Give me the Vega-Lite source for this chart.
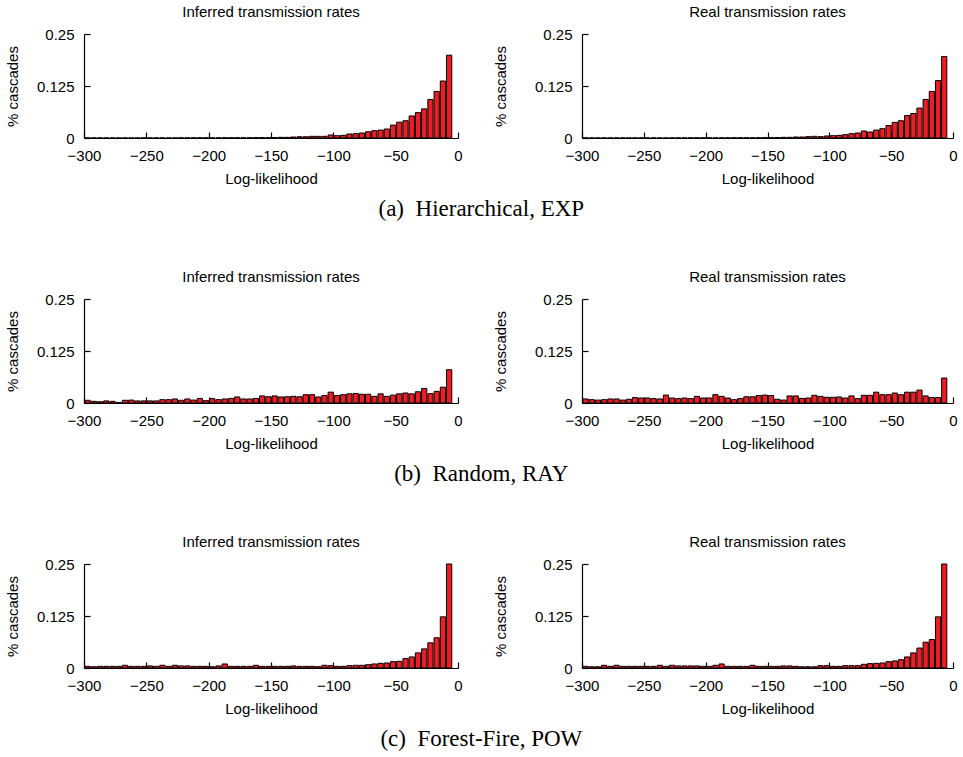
{
  "$schema": "https://vega.github.io/schema/vega-lite/v6.json",
  "background": "white",
  "padding": 5,
  "config": {
    "view": {"stroke": null},
    "font": "Liberation Sans",
    "title": {"font": "Liberation Sans", "fontSize": 15, "fontWeight": "normal", "color": "#000000", "offset": 7},
    "axis": {
      "grid": false, "labelFont": "Liberation Sans", "titleFont": "Liberation Sans",
      "labelFontSize": 15, "titleFontSize": 15, "titleFontWeight": "normal",
      "labelColor": "#000000", "titleColor": "#000000", "domainColor": "#000000", "tickColor": "#000000",
      "tickSize": -6, "labelPadding": 16, "domainWidth": 1.2, "tickWidth": 1.2,
      "labelFlush": false, "labelOverlap": false
    },
    "axisX": {"titlePadding": 8},
    "axisY": {"titlePadding": 16}
  },
  "data": {"values": [
    {"lo": -300, "hi": -295, "hI": 0.0002, "hR": 0.0002, "rI": 0.0065, "rR": 0.0097, "fI": 0.004, "fR": 0.004},
    {"lo": -295, "hi": -290, "hI": 0.0002, "hR": 0.0002, "rI": 0.004, "rR": 0.008, "fI": 0.003, "fR": 0.003},
    {"lo": -290, "hi": -285, "hI": 0.0002, "hR": 0.0002, "rI": 0.003, "rR": 0.007, "fI": 0.004, "fR": 0.003},
    {"lo": -285, "hi": -280, "hI": 0.0002, "hR": 0.0002, "rI": 0.005, "rR": 0.008, "fI": 0.004, "fR": 0.0065},
    {"lo": -280, "hi": -275, "hI": 0.0002, "hR": 0.0002, "rI": 0.004, "rR": 0.0097, "fI": 0.004, "fR": 0.004},
    {"lo": -275, "hi": -270, "hI": 0.0002, "hR": 0.0002, "rI": 0.001, "rR": 0.0097, "fI": 0.004, "fR": 0.0065},
    {"lo": -270, "hi": -265, "hI": 0.0002, "hR": 0.0002, "rI": 0.0065, "rR": 0.007, "fI": 0.0065, "fR": 0.004},
    {"lo": -265, "hi": -260, "hI": 0.0002, "hR": 0.0002, "rI": 0.007, "rR": 0.009, "fI": 0.004, "fR": 0.004},
    {"lo": -260, "hi": -255, "hI": 0.0002, "hR": 0.0002, "rI": 0.005, "rR": 0.013, "fI": 0.004, "fR": 0.004},
    {"lo": -255, "hi": -250, "hI": 0.0002, "hR": 0.0002, "rI": 0.005, "rR": 0.012, "fI": 0.004, "fR": 0.004},
    {"lo": -250, "hi": -245, "hI": 0.0002, "hR": 0.0002, "rI": 0.005, "rR": 0.012, "fI": 0.005, "fR": 0.004},
    {"lo": -245, "hi": -240, "hI": 0.0002, "hR": 0.0002, "rI": 0.005, "rR": 0.0105, "fI": 0.004, "fR": 0.004},
    {"lo": -240, "hi": -235, "hI": 0.0002, "hR": 0.0002, "rI": 0.008, "rR": 0.0097, "fI": 0.0065, "fR": 0.0065},
    {"lo": -235, "hi": -230, "hI": 0.0002, "hR": 0.0002, "rI": 0.008, "rR": 0.019, "fI": 0.004, "fR": 0.004},
    {"lo": -230, "hi": -225, "hI": 0.0002, "hR": 0.0002, "rI": 0.0097, "rR": 0.012, "fI": 0.0065, "fR": 0.0065},
    {"lo": -225, "hi": -220, "hI": 0.0004, "hR": 0.0004, "rI": 0.0065, "rR": 0.0105, "fI": 0.005, "fR": 0.005},
    {"lo": -220, "hi": -215, "hI": 0.0004, "hR": 0.0004, "rI": 0.0097, "rR": 0.012, "fI": 0.005, "fR": 0.005},
    {"lo": -215, "hi": -210, "hI": 0.0004, "hR": 0.0004, "rI": 0.007, "rR": 0.0105, "fI": 0.004, "fR": 0.005},
    {"lo": -210, "hi": -205, "hI": 0.0004, "hR": 0.0004, "rI": 0.011, "rR": 0.016, "fI": 0.004, "fR": 0.005},
    {"lo": -205, "hi": -200, "hI": 0.0004, "hR": 0.0004, "rI": 0.0056, "rR": 0.012, "fI": 0.004, "fR": 0.004},
    {"lo": -200, "hi": -195, "hI": 0.0004, "hR": 0.0004, "rI": 0.0105, "rR": 0.012, "fI": 0.003, "fR": 0.004},
    {"lo": -195, "hi": -190, "hI": 0.0004, "hR": 0.0004, "rI": 0.008, "rR": 0.020, "fI": 0.005, "fR": 0.0065},
    {"lo": -190, "hi": -185, "hI": 0.0006, "hR": 0.0004, "rI": 0.0097, "rR": 0.016, "fI": 0.0097, "fR": 0.0097},
    {"lo": -185, "hi": -180, "hI": 0.0006, "hR": 0.0004, "rI": 0.011, "rR": 0.012, "fI": 0.004, "fR": 0.004},
    {"lo": -180, "hi": -175, "hI": 0.0006, "hR": 0.0006, "rI": 0.0145, "rR": 0.008, "fI": 0.004, "fR": 0.004},
    {"lo": -175, "hi": -170, "hI": 0.0006, "hR": 0.0006, "rI": 0.0097, "rR": 0.0105, "fI": 0.004, "fR": 0.004},
    {"lo": -170, "hi": -165, "hI": 0.0008, "hR": 0.0006, "rI": 0.0097, "rR": 0.015, "fI": 0.004, "fR": 0.004},
    {"lo": -165, "hi": -160, "hI": 0.0008, "hR": 0.0006, "rI": 0.011, "rR": 0.015, "fI": 0.0065, "fR": 0.0065},
    {"lo": -160, "hi": -155, "hI": 0.001, "hR": 0.0008, "rI": 0.017, "rR": 0.018, "fI": 0.004, "fR": 0.004},
    {"lo": -155, "hi": -150, "hI": 0.001, "hR": 0.001, "rI": 0.015, "rR": 0.019, "fI": 0.004, "fR": 0.004},
    {"lo": -150, "hi": -145, "hI": 0.0012, "hR": 0.001, "rI": 0.017, "rR": 0.018, "fI": 0.004, "fR": 0.004},
    {"lo": -145, "hi": -140, "hI": 0.0016, "hR": 0.0012, "rI": 0.0145, "rR": 0.009, "fI": 0.004, "fR": 0.004},
    {"lo": -140, "hi": -135, "hI": 0.0016, "hR": 0.0016, "rI": 0.015, "rR": 0.007, "fI": 0.004, "fR": 0.005},
    {"lo": -135, "hi": -130, "hI": 0.0024, "hR": 0.0016, "rI": 0.016, "rR": 0.017, "fI": 0.005, "fR": 0.005},
    {"lo": -130, "hi": -125, "hI": 0.003, "hR": 0.0024, "rI": 0.015, "rR": 0.017, "fI": 0.004, "fR": 0.004},
    {"lo": -125, "hi": -120, "hI": 0.003, "hR": 0.0024, "rI": 0.020, "rR": 0.011, "fI": 0.004, "fR": 0.003},
    {"lo": -120, "hi": -115, "hI": 0.004, "hR": 0.0032, "rI": 0.020, "rR": 0.012, "fI": 0.004, "fR": 0.003},
    {"lo": -115, "hi": -110, "hI": 0.004, "hR": 0.004, "rI": 0.0145, "rR": 0.0185, "fI": 0.0032, "fR": 0.003},
    {"lo": -110, "hi": -105, "hI": 0.004, "hR": 0.0032, "rI": 0.018, "rR": 0.016, "fI": 0.0065, "fR": 0.0056},
    {"lo": -105, "hi": -100, "hI": 0.0072, "hR": 0.0048, "rI": 0.026, "rR": 0.0137, "fI": 0.0056, "fR": 0.0056},
    {"lo": -100, "hi": -95, "hI": 0.0056, "hR": 0.0056, "rI": 0.018, "rR": 0.0137, "fI": 0.004, "fR": 0.004},
    {"lo": -95, "hi": -90, "hI": 0.0064, "hR": 0.0064, "rI": 0.020, "rR": 0.0145, "fI": 0.004, "fR": 0.004},
    {"lo": -90, "hi": -85, "hI": 0.0096, "hR": 0.008, "rI": 0.022, "rR": 0.012, "fI": 0.0056, "fR": 0.0056},
    {"lo": -85, "hi": -80, "hI": 0.0104, "hR": 0.0104, "rI": 0.023, "rR": 0.017, "fI": 0.0065, "fR": 0.0056},
    {"lo": -80, "hi": -75, "hI": 0.012, "hR": 0.012, "rI": 0.021, "rR": 0.0105, "fI": 0.0065, "fR": 0.0056},
    {"lo": -75, "hi": -70, "hI": 0.015, "hR": 0.0168, "rI": 0.021, "rR": 0.0185, "fI": 0.008, "fR": 0.0089},
    {"lo": -70, "hi": -65, "hI": 0.0176, "hR": 0.0144, "rI": 0.016, "rR": 0.0185, "fI": 0.0097, "fR": 0.0105},
    {"lo": -65, "hi": -60, "hI": 0.019, "hR": 0.019, "rI": 0.022, "rR": 0.026, "fI": 0.0113, "fR": 0.0113},
    {"lo": -60, "hi": -55, "hI": 0.0216, "hR": 0.0224, "rI": 0.016, "rR": 0.020, "fI": 0.012, "fR": 0.012},
    {"lo": -55, "hi": -50, "hI": 0.031, "hR": 0.030, "rI": 0.019, "rR": 0.020, "fI": 0.0153, "fR": 0.0153},
    {"lo": -50, "hi": -45, "hI": 0.038, "hR": 0.0375, "rI": 0.022, "rR": 0.024, "fI": 0.016, "fR": 0.017},
    {"lo": -45, "hi": -40, "hI": 0.0415, "hR": 0.0415, "rI": 0.024, "rR": 0.020, "fI": 0.0226, "fR": 0.020},
    {"lo": -40, "hi": -35, "hI": 0.053, "hR": 0.054, "rI": 0.022, "rR": 0.026, "fI": 0.0266, "fR": 0.0266},
    {"lo": -35, "hi": -30, "hI": 0.061, "hR": 0.059, "rI": 0.027, "rR": 0.026, "fI": 0.0363, "fR": 0.0363},
    {"lo": -30, "hi": -25, "hI": 0.070, "hR": 0.072, "rI": 0.035, "rR": 0.031, "fI": 0.046, "fR": 0.048},
    {"lo": -25, "hi": -20, "hI": 0.0927, "hR": 0.0927, "rI": 0.0225, "rR": 0.017, "fI": 0.0605, "fR": 0.062},
    {"lo": -20, "hi": -15, "hI": 0.112, "hR": 0.112, "rI": 0.028, "rR": 0.013, "fI": 0.0726, "fR": 0.0685},
    {"lo": -15, "hi": -10, "hI": 0.137, "hR": 0.138, "rI": 0.038, "rR": 0.013, "fI": 0.123, "fR": 0.123},
    {"lo": -10, "hi": -5, "hI": 0.199, "hR": 0.196, "rI": 0.080, "rR": 0.060, "fI": 0.25, "fR": 0.25}
  ]},
  "spacing": 49,
  "vconcat": [
    {
      "title": {"text": "(a)\u2002Hierarchical, EXP", "orient": "bottom", "anchor": "middle", "font": "Liberation Serif", "fontSize": 23, "offset": 12},
      "spacing": 30,
      "hconcat": [
        {"title": "Inferred transmission rates", "width": 374, "height": 104,
         "mark": {"type": "bar", "fill": "#ee1d23", "stroke": "#000000", "strokeWidth": 1},
         "encoding": {
           "x": {"field": "lo", "type": "quantitative", "bin": {"binned": true, "step": 5}, "scale": {"domain": [-300, 0]}, "axis": {"title": "Log-likelihood", "values": [-300, -250, -200, -150, -100, -50, 0], "format": "d"}},
           "x2": {"field": "hi"},
           "y": {"field": "hI", "type": "quantitative", "scale": {"domain": [0, 0.25]}, "axis": {"title": "% cascades", "values": [0, 0.125, 0.25], "format": ".3~g"}}
         }},
        {"title": "Real transmission rates", "width": 371, "height": 104,
         "mark": {"type": "bar", "fill": "#ee1d23", "stroke": "#000000", "strokeWidth": 1},
         "encoding": {
           "x": {"field": "lo", "type": "quantitative", "bin": {"binned": true, "step": 5}, "scale": {"domain": [-300, 0]}, "axis": {"title": "Log-likelihood", "values": [-300, -250, -200, -150, -100, -50, 0], "format": "d"}},
           "x2": {"field": "hi"},
           "y": {"field": "hR", "type": "quantitative", "scale": {"domain": [0, 0.25]}, "axis": {"title": "% cascades", "titlePadding": 26, "values": [0, 0.125, 0.25], "format": ".3~g"}}
         }}
      ]
    },
    {
      "title": {"text": "(b)\u2002Random, RAY", "orient": "bottom", "anchor": "middle", "font": "Liberation Serif", "fontSize": 23, "offset": 12},
      "spacing": 30,
      "hconcat": [
        {"title": "Inferred transmission rates", "width": 374, "height": 104,
         "mark": {"type": "bar", "fill": "#ee1d23", "stroke": "#000000", "strokeWidth": 1},
         "encoding": {
           "x": {"field": "lo", "type": "quantitative", "bin": {"binned": true, "step": 5}, "scale": {"domain": [-300, 0]}, "axis": {"title": "Log-likelihood", "values": [-300, -250, -200, -150, -100, -50, 0], "format": "d"}},
           "x2": {"field": "hi"},
           "y": {"field": "rI", "type": "quantitative", "scale": {"domain": [0, 0.25]}, "axis": {"title": "% cascades", "values": [0, 0.125, 0.25], "format": ".3~g"}}
         }},
        {"title": "Real transmission rates", "width": 371, "height": 104,
         "mark": {"type": "bar", "fill": "#ee1d23", "stroke": "#000000", "strokeWidth": 1},
         "encoding": {
           "x": {"field": "lo", "type": "quantitative", "bin": {"binned": true, "step": 5}, "scale": {"domain": [-300, 0]}, "axis": {"title": "Log-likelihood", "values": [-300, -250, -200, -150, -100, -50, 0], "format": "d"}},
           "x2": {"field": "hi"},
           "y": {"field": "rR", "type": "quantitative", "scale": {"domain": [0, 0.25]}, "axis": {"title": "% cascades", "titlePadding": 26, "values": [0, 0.125, 0.25], "format": ".3~g"}}
         }}
      ]
    },
    {
      "title": {"text": "(c)\u2002Forest-Fire, POW", "orient": "bottom", "anchor": "middle", "font": "Liberation Serif", "fontSize": 23, "offset": 12},
      "spacing": 30,
      "hconcat": [
        {"title": "Inferred transmission rates", "width": 374, "height": 104,
         "mark": {"type": "bar", "fill": "#ee1d23", "stroke": "#000000", "strokeWidth": 1},
         "encoding": {
           "x": {"field": "lo", "type": "quantitative", "bin": {"binned": true, "step": 5}, "scale": {"domain": [-300, 0]}, "axis": {"title": "Log-likelihood", "values": [-300, -250, -200, -150, -100, -50, 0], "format": "d"}},
           "x2": {"field": "hi"},
           "y": {"field": "fI", "type": "quantitative", "scale": {"domain": [0, 0.25]}, "axis": {"title": "% cascades", "values": [0, 0.125, 0.25], "format": ".3~g"}}
         }},
        {"title": "Real transmission rates", "width": 371, "height": 104,
         "mark": {"type": "bar", "fill": "#ee1d23", "stroke": "#000000", "strokeWidth": 1},
         "encoding": {
           "x": {"field": "lo", "type": "quantitative", "bin": {"binned": true, "step": 5}, "scale": {"domain": [-300, 0]}, "axis": {"title": "Log-likelihood", "values": [-300, -250, -200, -150, -100, -50, 0], "format": "d"}},
           "x2": {"field": "hi"},
           "y": {"field": "fR", "type": "quantitative", "scale": {"domain": [0, 0.25]}, "axis": {"title": "% cascades", "titlePadding": 26, "values": [0, 0.125, 0.25], "format": ".3~g"}}
         }}
      ]
    }
  ]
}
